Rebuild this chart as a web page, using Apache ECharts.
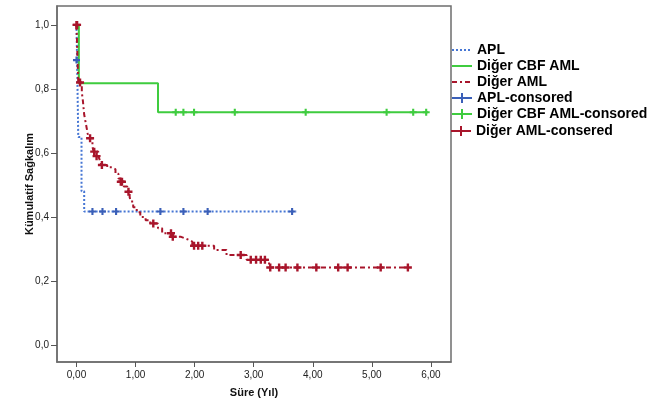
<!DOCTYPE html>
<html><head><meta charset="utf-8">
<script src="https://cdn.jsdelivr.net/npm/echarts@6/dist/echarts.min.js"></script>
<style>html,body{margin:0;padding:0;background:#fff}#c{width:667px;height:401px}</style>
</head><body><div id="c"></div>
<script>
// Tick labels
const xTicks = [0, 1, 2, 3, 4, 5, 6];
const yTicks = [0, 0.2, 0.4, 0.6, 0.8, 1.0];

// APL
const aplTime = [0, 0.01, 0.03, 0.085, 0.13, 3.72];
const aplSurv = [1.0, 0.89, 0.65, 0.48, 0.417, 0.417];
const aplCensTime = [0, 0.27, 0.44, 0.67, 1.42, 1.81, 2.22, 3.65];
const aplCensSurv = [0.89, 0.417, 0.417, 0.417, 0.417, 0.417, 0.417, 0.417];

// Diğer CBF AML
const cbfTime = [0, 0.04, 1.38, 5.95];
const cbfSurv = [1.0, 0.818, 0.727, 0.727];
const cbfCensTime = [1.68, 1.81, 1.99, 2.68, 3.88, 5.25, 5.70, 5.92];
const cbfCensSurv = [0.727, 0.727, 0.727, 0.727, 0.727, 0.727, 0.727, 0.727];

// Diğer AML
const amlTime = [0, 0.03, 0.09, 0.11, 0.13, 0.16, 0.19, 0.21, 0.27, 0.29, 0.37, 0.40, 0.42,
  0.52, 0.61, 0.66, 0.71, 0.75, 0.80, 0.86, 0.88, 0.90, 0.92, 0.96, 1.02, 1.08, 1.17, 1.25,
  1.38, 1.45, 1.62, 1.77, 1.84, 1.91, 1.96, 2.33, 2.54, 2.88, 3.26, 5.65];
const amlSurv = [1.0, 0.82, 0.79, 0.76, 0.72, 0.69, 0.66, 0.646, 0.62, 0.604, 0.59, 0.575, 0.5625,
  0.555, 0.549, 0.535, 0.52, 0.51, 0.495, 0.485, 0.479, 0.462, 0.448, 0.43, 0.415, 0.40, 0.39, 0.38,
  0.365, 0.349, 0.338, 0.333, 0.328, 0.323, 0.31, 0.297, 0.281, 0.266, 0.242, 0.242];
const amlCensTime = [0, 0.01, 0.06, 0.23, 0.30, 0.34, 0.43, 0.75, 0.77, 0.88, 1.30, 1.60, 1.63,
  1.99, 2.06, 2.13, 2.78, 2.95, 3.04, 3.12, 3.19, 3.28, 3.43, 3.54, 3.74, 4.06, 4.43, 4.59, 5.15, 5.61];
const amlCensSurv = [1.0, 1.0, 0.82, 0.646, 0.604, 0.59, 0.5625, 0.51, 0.51, 0.479, 0.38, 0.349, 0.338,
  0.31, 0.31, 0.31, 0.281, 0.266, 0.266, 0.266, 0.266, 0.242, 0.242, 0.242, 0.242, 0.242, 0.242, 0.242, 0.242, 0.242];

const zip = (a, b) => a.map((v, i) => [v, b[i]]);
const plus = 'path://M3.5,0H6.5V3.5H10V6.5H6.5V10H3.5V6.5H0V3.5H3.5Z';
const plusLeg = 'path://M0,4H20V6H0Z M9,0H11V10H9Z';

const cBlue = '#4676d4', cGreen = '#3fcc3f', cRed = '#a8152b';
const cBlueM = '#3a5fb8';
const hideSym = {color: 'rgba(0,0,0,0)', borderWidth: 0, opacity: 0};

const chart = echarts.init(document.getElementById('c'), null, {renderer: 'canvas'});
const legText = {fontFamily: 'Liberation Sans, Arial, sans-serif', fontWeight: 'bold', fontSize: 14, color: '#000'};
chart.setOption({
  animation: false,
  backgroundColor: '#fff',
  grid: {left: 57, top: 6, width: 394, height: 356, show: true, borderColor: '#6e6e6e', borderWidth: 1.5,
    containLabel: false, outerBoundsMode: 'none'},
  xAxis: {
    type: 'value', min: -0.33, max: 6.34,
    name: 'Süre (Yıl)', nameLocation: 'middle', nameGap: 25, nameMoveOverlap: false,
    nameTextStyle: {fontFamily: 'Liberation Sans, Arial, sans-serif', fontWeight: 'bold', fontSize: 11, color: '#111'},
    axisLine: {show: true, onZero: false, lineStyle: {color: '#6e6e6e', width: 1.5}},
    axisTick: {show: true, length: 5, lineStyle: {color: '#555'}, customValues: xTicks},
    axisLabel: {customValues: xTicks, margin: 8, fontFamily: 'Liberation Sans, Arial, sans-serif', fontSize: 10, color: '#222',
      formatter: v => v.toFixed(2).replace('.', ',')},
    splitLine: {show: false}
  },
  yAxis: {
    type: 'value', min: -0.053, max: 1.059,
    name: 'Kümulatif Sağkalım', nameLocation: 'middle', nameGap: 22, nameMoveOverlap: false,
    nameTextStyle: {fontFamily: 'Liberation Sans, Arial, sans-serif', fontWeight: 'bold', fontSize: 11, color: '#111'},
    axisLine: {show: true, onZero: false, lineStyle: {color: '#6e6e6e', width: 1.5}},
    axisTick: {show: true, length: 6, lineStyle: {color: '#555'}, customValues: yTicks},
    axisLabel: {customValues: yTicks, margin: 8, fontFamily: 'Liberation Sans, Arial, sans-serif', fontSize: 10, color: '#222',
      formatter: v => v.toFixed(1).replace('.', ',')},
    splitLine: {show: false}
  },
  legend: [{
    orient: 'vertical', left: 446, top: 38, itemWidth: 20, itemHeight: 14, itemGap: 2,
    textStyle: legText, selectedMode: false,
    data: [
      {name: 'APL', itemStyle: hideSym}, {name: 'Diğer CBF AML', itemStyle: hideSym}, {name: 'Diğer AML', itemStyle: hideSym},
      {name: 'APL-consored', icon: plusLeg}, {name: 'Diğer CBF AML-consored', icon: plusLeg}
    ]
  }, {
    orient: 'vertical', left: 446, top: 119, itemWidth: 20, itemHeight: 14,
    textStyle: legText, selectedMode: false,
    data: [{name: 'Diğer AML-consered', icon: plusLeg}]
  }],
  series: [
    {name: 'APL', type: 'line', step: 'end', showSymbol: false, symbol: 'none', data: zip(aplTime, aplSurv),
      lineStyle: {color: cBlue, width: 2, type: [2, 2]}, itemStyle: {color: cBlue}, z: 2},
    {name: 'Diğer CBF AML', type: 'line', step: 'end', showSymbol: false, symbol: 'none', data: zip(cbfTime, cbfSurv),
      lineStyle: {color: cGreen, width: 2}, itemStyle: {color: cGreen}, z: 3},
    {name: 'Diğer AML', type: 'line', step: 'end', showSymbol: false, symbol: 'none', data: zip(amlTime, amlSurv),
      lineStyle: {color: cRed, width: 2, type: [5, 3, 2, 3]}, itemStyle: {color: cRed}, z: 4},
    {name: 'APL-consored', type: 'scatter', symbol: plus, symbolSize: 7, data: zip(aplCensTime, aplCensSurv),
      itemStyle: {color: cBlueM, opacity: 1}, z: 5},
    {name: 'Diğer CBF AML-consored', type: 'scatter', symbol: plus, symbolSize: 7, data: zip(cbfCensTime, cbfCensSurv),
      itemStyle: {color: cGreen, opacity: 1}, z: 5},
    {name: 'Diğer AML-consered', type: 'scatter', symbol: plus, symbolSize: 8, data: zip(amlCensTime, amlCensSurv),
      itemStyle: {color: cRed, opacity: 1}, z: 6}
  ]
});
</script></body></html>
